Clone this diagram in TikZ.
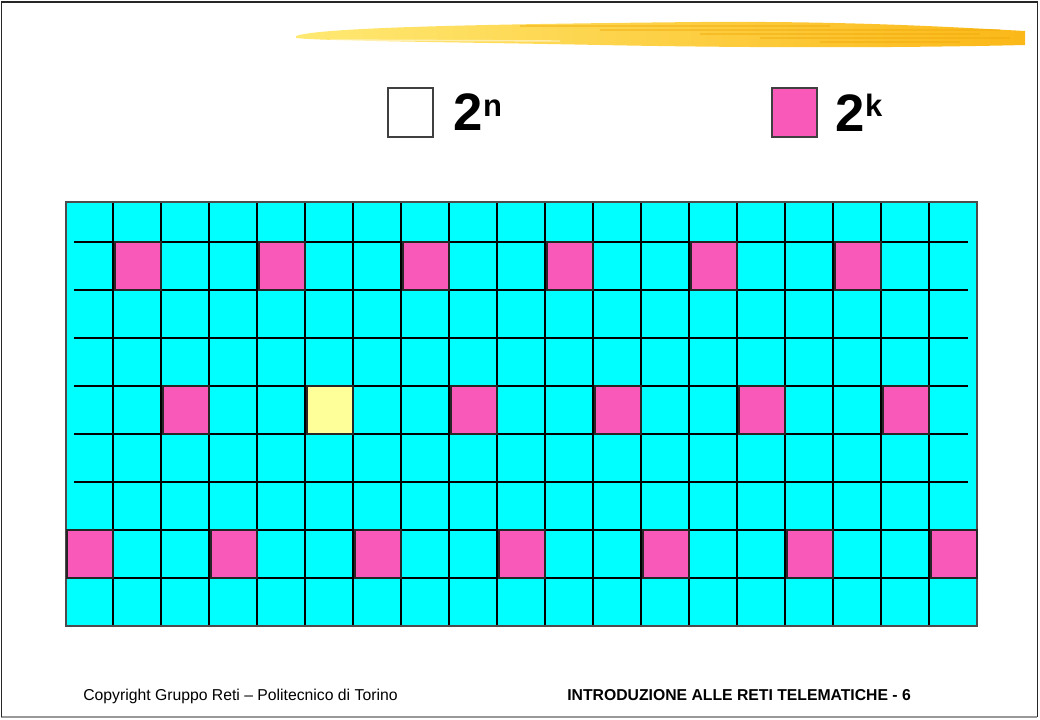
\documentclass[tikz,border=0pt]{standalone}
\usepackage{fontspec}
\setmainfont{Liberation Sans}
\usetikzlibrary{positioning}

\definecolor{cellcyan}{RGB}{0,255,255}
\definecolor{cellpink}{RGB}{249,90,185}
\definecolor{cellyellow}{RGB}{255,255,153}
\definecolor{brushA}{RGB}{255,233,115}
\definecolor{brushB}{RGB}{251,184,24}
\definecolor{brushC}{RGB}{240,170,10}

\tikzset{
  %% grid lines
  vline/.style={draw=black, line width=1.45pt},
  hline/.style={draw=black, line width=1.3pt},
  %% marked cell
  hitcell/.style={draw=black!85, fill=#1, line width=1pt},
  hitcell/.default=cellpink,
  %% legend square
  legbox/.style={
    rectangle, draw=black!75, fill=#1,
    minimum width=1.125cm, minimum height=1.225cm,
    inner sep=0pt, line width=0.8pt
  },
  legbox/.default=white,
  legtext/.style={inner sep=0pt, font=\fontsize{37.5}{38}\selectfont\bfseries},
  foot/.style={inner sep=0pt, anchor=base west, font=\fontsize{11.2}{13}\selectfont},
}

\begin{document}
\begin{tikzpicture}[x=0.025cm, y=-0.025cm]
  \useasboundingbox (0,0) rectangle (1040,720);

  %% page frame
  \draw[black!40, line width=0.8pt] (1,717) -- (1037,717);
  \draw[black!85, line width=1.4pt] (1.5,717) -- (1.5,2) -- (1037.5,2) -- (1037.5,717);

  %% brush stroke
  \shade[left color=brushA, right color=brushB]
    (296,36) .. controls (320,27) and (500,24) .. (700,22)
    .. controls (850,21) and (950,27) .. (1025,31) -- (1025,45)
    .. controls (900,48) and (750,48) .. (600,45)
    .. controls (450,42) and (320,41) .. (296,38) -- cycle;
  \foreach \y/\a/\b in {26/520/830, 30/600/1000, 34/700/980, 38/760/1010, 42/820/960}
    \draw[brushC, opacity=0.45, line width=1.2pt] (\a,\y) -- (\b,\y);
  \draw[white, opacity=0.5, line width=1pt] (330,40) -- (560,41);

  %% legend
  \node[legbox] (freebox) at (410.5,112.5) {};
  \node[legtext, right=0.5cm of freebox] (freelbl)
        {2\raisebox{10.5pt}{\fontsize{22}{22}\selectfont n}};
  \node[legbox=cellpink] (usedbox) at (794.5,112.5) {};
  \node[legtext, right=0.45cm of usedbox] (usedlbl)
        {2\raisebox{10.5pt}{\fontsize{22}{22}\selectfont k}};

  %% grid
  \fill[cellcyan] (66,202) rectangle (977,626);
  \foreach \i in {1,...,18}
    \draw[vline] ({65+48*\i},202) -- ({65+48*\i},626);
  \foreach \j in {0,...,7}
    \draw[hline] (74,{242+48*\j}) -- (968,{242+48*\j});
  \draw[black!70, line width=0.8pt] (66,202) rectangle (977,626);

  %% marked cells: every third column
  \foreach \r/\s in {2/2, 5/3, 8/1}
    \foreach \k in {0,...,6} {
      \pgfmathtruncatemacro{\c}{\s+3*\k}
      \ifnum\c<20
        \draw[hitcell] ({65+48*(\c-1)+2},{242+48*(\r-2)})
          rectangle ({min(65+48*\c,977)},{242+48*(\r-1)});
      \fi
    }
  \draw[hitcell=cellyellow] (307,386) rectangle (353,434);

  %% footer
  \node[foot] (copyr) at (83,701)
        {Copyright Gruppo Reti – Politecnico di Torino};
  \node[foot, font=\fontsize{11.2}{13}\selectfont\bfseries] (title) at (567,701)
        {INTRODUZIONE ALLE RETI TELEMATICHE - 6};
\end{tikzpicture}
\end{document}
